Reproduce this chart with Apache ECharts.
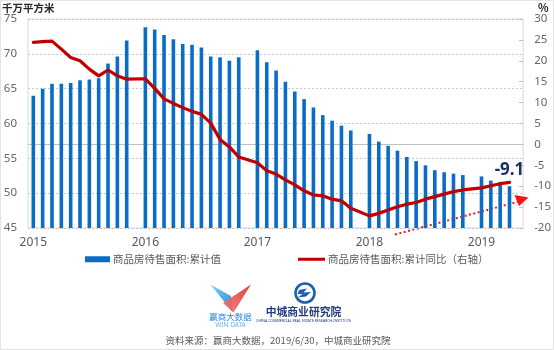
<!DOCTYPE html>
<html>
<head>
<meta charset="utf-8">
<script src="https://cdn.jsdelivr.net/npm/echarts@6/dist/echarts.min.js"></script>
<style>
html,body{margin:0;padding:0;background:#fff;}
#c{width:554px;height:350px;}
</style>
</head>
<body>
<div id="c"></div>
<script>
// ---- data ----
const months = [
  '2015-02','2015-03','2015-04','2015-05','2015-06','2015-07','2015-08','2015-09','2015-10','2015-11','2015-12',
  '2016-02','2016-03','2016-04','2016-05','2016-06','2016-07','2016-08','2016-09','2016-10','2016-11','2016-12',
  '2017-02','2017-03','2017-04','2017-05','2017-06','2017-07','2017-08','2017-09','2017-10','2017-11','2017-12',
  '2018-02','2018-03','2018-04','2018-05','2018-06','2018-07','2018-08','2018-09','2018-10','2018-11','2018-12',
  '2019-02','2019-03','2019-04','2019-05'
];
const stockArea = [
  64.0, 65.0, 65.7, 65.7, 65.8, 66.2, 66.3, 66.5, 68.6, 69.6, 71.9,
  73.8, 73.5, 72.7, 72.1, 71.4, 71.3, 70.9, 69.6, 69.5, 69.0, 69.5,
  70.5, 68.8, 67.6, 66.0, 64.6, 63.5, 62.3, 61.2, 60.4, 59.7, 59.0,
  58.5, 57.4, 56.8, 56.1, 55.2, 54.6, 54.0, 53.3, 53.0, 52.8, 52.6,
  52.4, 51.8, 51.6, 51.0
];
const stockYoY = [
  24.4, 24.6, 24.7, 22.8, 20.8, 20.0, 18.0, 16.4, 17.8, 16.4, 15.6,
  15.7, 13.4, 10.9, 9.8, 8.8, 7.9, 7.2, 5.1, 1.2, -0.6, -3.0,
  -4.4, -6.3, -7.1, -8.5, -9.7, -11.1, -12.1, -12.3, -13.1, -13.5, -15.3,
  -17.1, -16.5, -15.7, -14.9, -14.3, -13.9, -13.1, -12.5, -11.9, -11.3, -10.9,
  -10.4, -9.9, -9.4, -9.1
];
const yearLabels = ['2015','2016','2017','2018','2019'];
const seriesNames = ['商品房待售面积:累计值', '商品房待售面积:累计同比（右轴）'];
const lastLabel = '-9.1';

// ---- build ----
function monthPos(s) { const p = s.split('-').map(Number); return (p[0] - 2015) * 12 + (p[1] - 1); }
const barData = months.map((m, i) => [monthPos(m), stockArea[i]]);
const lineData = months.map((m, i) => [monthPos(m), stockYoY[i]]);
const lastPoint = lineData[lineData.length - 1];
const yearPos = yearLabels.map(y => monthPos(y + '-02'));

const font = '"Noto Sans CJK SC", "Noto Sans", sans-serif';
const chart = echarts.init(document.getElementById('c'), null, { renderer: 'canvas' });
chart.setOption({
  animation: false,
  backgroundColor: '#ffffff',
  textStyle: { fontFamily: font },
  grid: { left: 28, right: 28, top: 19, bottom: 122, show: true, borderColor: '#d9d9d9', borderWidth: 1, backgroundColor: 'transparent' },
  legend: [
    { data: [{ name: seriesNames[0], icon: 'rect' }], left: 80, top: 249, itemWidth: 25, itemHeight: 6, itemGap: 4,
      textStyle: { fontSize: 10.5, color: '#595959', fontFamily: font, padding: [0, 0, 0, -2] }, selectedMode: false },
    { data: [{ name: seriesNames[1], icon: 'rect' }], left: 293, top: 249, itemWidth: 27, itemHeight: 3, itemGap: 4,
      textStyle: { fontSize: 10.5, color: '#595959', fontFamily: font, padding: [0, 0, 0, -2] }, selectedMode: false }
  ],
  xAxis: {
    type: 'value', min: 0.43, max: 53.46,
    axisLine: { show: true, lineStyle: { color: '#bfbfbf' } },
    axisTick: { show: false },
    splitLine: { show: false },
    axisLabel: { customValues: yearPos, formatter: v => yearLabels[Math.round((v - 1) / 12)], fontSize: 12, color: '#595959', margin: 9, fontFamily: 'Noto Sans, sans-serif' }
  },
  yAxis: [
    { type: 'value', min: 45, max: 75, interval: 5,
      axisLine: { show: false }, axisTick: { show: false },
      splitLine: { show: true, lineStyle: { color: '#c8c8c8', type: [2, 2], width: 1 } },
      axisLabel: { fontSize: 11.5, color: '#666666', margin: 11, fontFamily: 'Noto Sans, sans-serif' } },
    { type: 'value', min: -20, max: 30, interval: 5, position: 'right',
      axisLine: { show: false },
      axisTick: { show: true, inside: true, length: 4, lineStyle: { color: '#bfbfbf' } },
      splitLine: { show: false },
      axisLabel: { fontSize: 11.5, color: '#666666', margin: 11, align: 'left', fontFamily: 'Noto Sans, sans-serif' } }
  ],
  series: [
    { name: seriesNames[0], type: 'bar', yAxisIndex: 0, data: barData, barWidth: 3.6,
      itemStyle: { color: '#0A6CC7' }, z: 2 },
    { name: seriesNames[1], type: 'line', yAxisIndex: 1, data: lineData, symbol: 'none', smooth: false,
      lineStyle: { color: '#C00000', width: 3.2, join: 'round', cap: 'round' }, itemStyle: { color: '#C00000' }, z: 3,
      markPoint: {
        symbol: 'circle', symbolSize: 2, itemStyle: { color: 'rgba(0,0,0,0)' },
        label: { show: true, position: 'top', distance: 3, formatter: lastLabel,
          fontSize: 17, fontWeight: 'bold', color: '#1F2F5F', fontFamily: 'Noto Sans, sans-serif' },
        data: [{ coord: lastPoint, value: lastLabel }]
      } }
  ],
  graphic: [
    { type: 'rect', shape: { x: 0.5, y: 0.5, width: 553, height: 349 }, style: { fill: 'none', stroke: '#e3e3e3', lineWidth: 1 }, silent: true },
    { type: 'text', left: 2, top: 3, style: { text: '千万平方米', font: 'bold 10.5px ' + font, fill: '#262626' } },
    { type: 'text', left: 538, top: 2, style: { text: '%', font: 'bold 11px ' + font, fill: '#262626' } },
    // dotted arrow annotation
    { type: 'line', shape: { x1: 395, y1: 234.5, x2: 519, y2: 201.5 }, style: { stroke: '#FF1010', lineWidth: 2, lineDash: [2, 2.5] } },
    { type: 'polygon', shape: { points: [[528.5, 197.5], [514.5, 195], [519, 206]] }, style: { fill: '#FF1010' } },
    // WIN DATA logo
    { type: 'polygon', shape: { points: [[210.5, 284.5], [231, 296], [232.5, 312]] },
      style: { fill: new echarts.graphic.LinearGradient(0, 0, 1, 1, [{ offset: 0, color: '#7FD3F5' }, { offset: 1, color: '#1E88D8' }]) } },
    { type: 'polygon', shape: { points: [[251, 284.5], [223, 303], [233.5, 312.5]] },
      style: { fill: new echarts.graphic.LinearGradient(1, 0, 0, 1, [{ offset: 0, color: '#E0302A' }, { offset: 1, color: '#F27C7A' }]), opacity: 0.92 } },
    { type: 'text', x: 230.5, y: 317, style: { text: '赢商大数据', font: '8.5px ' + font, fill: '#2E86D1', align: 'center', verticalAlign: 'middle' } },
    { type: 'text', x: 230.5, y: 325.5, style: { text: 'WIN DATA', font: '6.5px "Noto Sans", sans-serif', fill: '#62B3E8', align: 'center', verticalAlign: 'middle' } },
    // 中城 logo
    { type: 'circle', shape: { cx: 305, cy: 293, r: 9.5 }, style: { fill: 'none', stroke: '#1F5FAE', lineWidth: 2.6 } },
    { type: 'polygon', shape: { points: [[299, 290], [307, 288.5], [303.5, 292.5], [311, 292], [306, 296.5], [298, 297.5], [302.5, 294], [297.5, 294]] }, style: { fill: '#1F5FAE' } },
    { type: 'text', x: 303.5, y: 311.5, style: { text: '中城商业研究院', font: 'bold 10.8px ' + font, fill: '#233A86', align: 'center', verticalAlign: 'middle' } },
    { type: 'text', x: 303.5, y: 321, style: { text: 'CHINA COMMERCIAL REAL ESTATE RESEARCH INSTITUTE', font: '3.6px "Noto Sans", sans-serif', fill: '#233A86', align: 'center', verticalAlign: 'middle' } },
    // source
    { type: 'text', x: 278, y: 340, style: { text: '资料来源：赢商大数据，2019/6/30，中城商业研究院', font: '9.5px ' + font, fill: '#595959', align: 'center', verticalAlign: 'middle' } }
  ]
});
</script>
</body>
</html>
